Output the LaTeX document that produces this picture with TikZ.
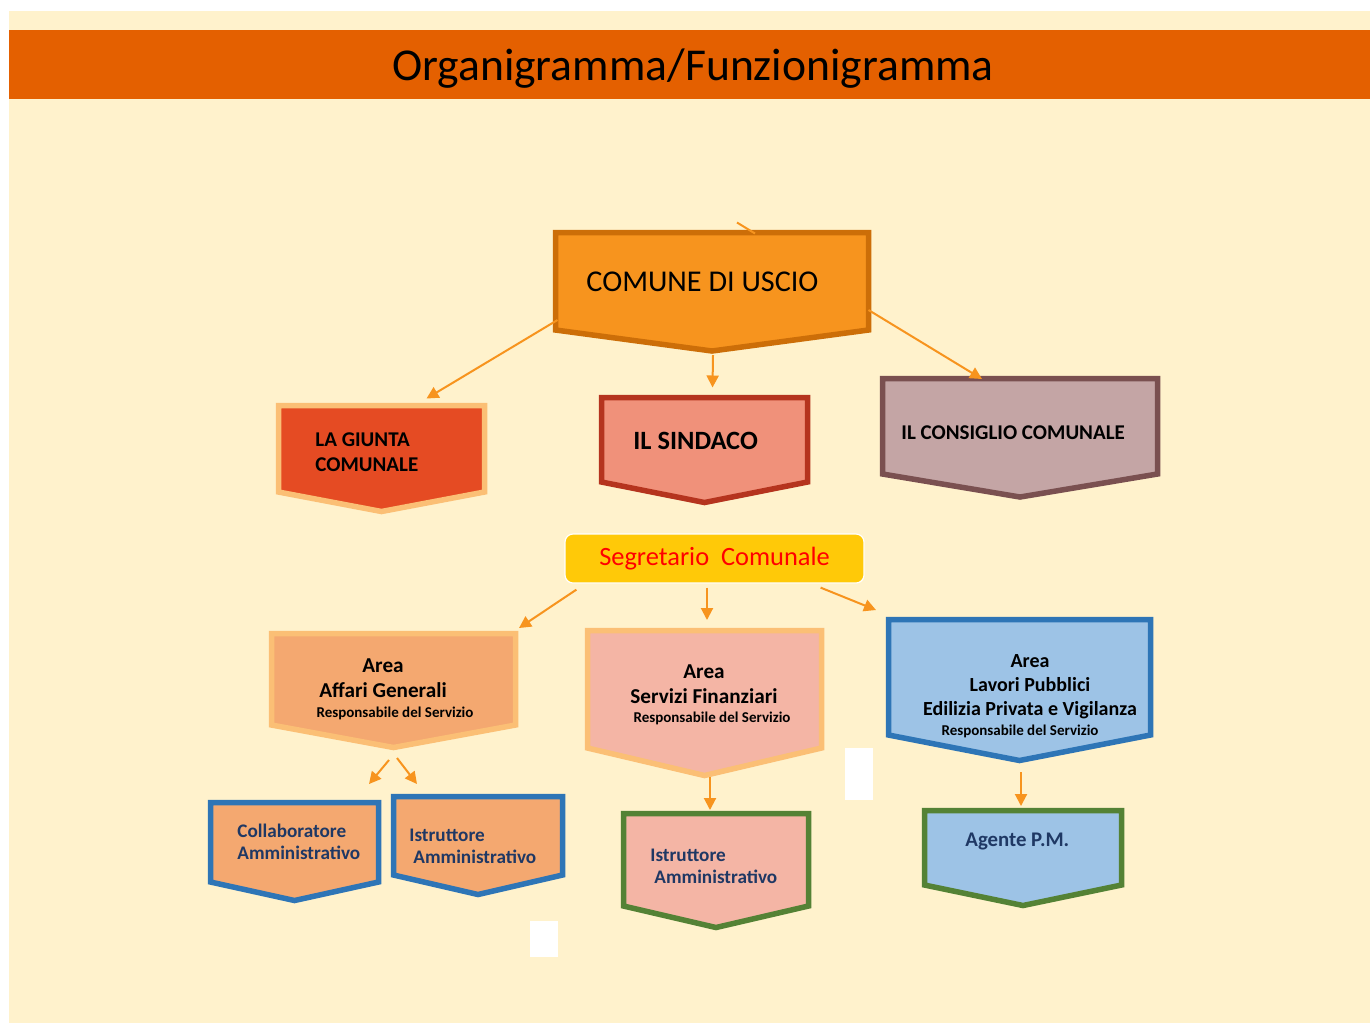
\documentclass[tikz,border=0pt]{standalone}
\usepackage{fontspec}
\setmainfont{Carlito}
\usetikzlibrary{arrows.meta,fit}
\definecolor{cream}{RGB}{255,242,204}
\definecolor{band}{RGB}{228,96,0}
\definecolor{arrowor}{RGB}{247,148,30}
\definecolor{navy}{RGB}{31,56,100}
\definecolor{peachedge}{RGB}{251,191,117}
\definecolor{blueedge}{RGB}{46,117,182}
\definecolor{greenedge}{RGB}{84,130,53}
\definecolor{lightblue}{RGB}{157,195,230}
\definecolor{apricot}{RGB}{244,168,112}
\definecolor{rose}{RGB}{244,181,165}
% chevron box: name, left, top, right, side bottom, tip, style
\newcommand{\chevron}[7]{%
  \filldraw[box,#7] (#2,#3) -- (#4,#3) -- (#4,#5) -- ({(#2+#4)/2},#6) -- (#2,#5) -- cycle;
  \node[fit={(#2,#3) (#4,#6)}, inner sep=0pt, outer sep=0pt] (#1) {};
}
\tikzset{
  box/.style={line width=2.75pt},
  conn/.style={color=arrowor, line width=1pt, -{Triangle[length=6pt,width=6pt]}},
  lbl/.style={font=\bfseries\fontsize{10.5pt}{12.5pt}\selectfont, align=left, anchor=base west, inner sep=0pt},
  arealbl/.style={font=\bfseries\fontsize{10.6pt}{12.5pt}\selectfont, align=center, anchor=base, inner sep=0pt},
  resp/.style={font=\bfseries\fontsize{7.5pt}{9pt}\selectfont, anchor=base, inner sep=0pt},
  staff/.style={font=\bfseries\fontsize{9.6pt}{11pt}\selectfont, text=navy, align=left, anchor=base west, inner sep=0pt}
}
\begin{document}
\begin{tikzpicture}[x=0.5pt,y=-0.5pt]
\useasboundingbox (0,0) rectangle (1370,1025);
\fill[cream] (9,11) rectangle (1370,1023);
\fill[band] (9,30) rectangle (1370,99);
\node[font=\fontsize{22.8pt}{26pt}\selectfont, anchor=base, inner sep=0pt] (title) at (693,80) {Organigramma/Funzionigramma};
\fill[white] (845,748) rectangle (873,800);
\fill[white] (530,921) rectangle (558,957);

% top level
\chevron{comune}{555.5}{232.5}{868.5}{330}{351}{fill={rgb,255:red,247;green,148;blue,30}, draw={rgb,255:red,204;green,110;blue,8}}
\chevron{giunta}{278.5}{405.5}{484.5}{492}{511.5}{fill={rgb,255:red,229;green,75;blue,35}, draw=peachedge}
\chevron{sindaco}{601.5}{397.5}{807.5}{482}{502.5}{fill={rgb,255:red,240;green,145;blue,122}, draw={rgb,255:red,181;green,52;blue,30}}
\chevron{consiglio}{882.5}{378.5}{1157.5}{474}{497}{fill={rgb,255:red,196;green,165;blue,165}, draw={rgb,255:red,122;green,80;blue,80}}

\node[font=\fontsize{15.1pt}{17pt}\selectfont, anchor=base west, inner sep=0pt] (comune-txt) at (586,291) {COMUNE DI USCIO};
\node[lbl] (giunta-txt) at (315,471) {LA GIUNTA\\COMUNALE};
\node[lbl, font=\bfseries\fontsize{13.2pt}{15pt}\selectfont] (sindaco-txt) at (633,449) {IL SINDACO};
\node[lbl] (consiglio-txt) at (901,439) {IL CONSIGLIO COMUNALE};

\node[fill={rgb,255:red,255;green,201;blue,8}, draw=white, line width=0.6pt, rounded corners=4pt,
  minimum width=149.5pt, minimum height=24.5pt, text=red, font=\fontsize{13.2pt}{15pt}\selectfont]
  (segr) at (714.5,558.5) {Segretario\ \ Comunale};

% areas
\chevron{affari}{271.5}{633.5}{515.5}{725}{747.5}{fill=apricot, draw=peachedge}
\chevron{finanz}{587.5}{630.5}{821.5}{748}{775.5}{fill=rose, draw=peachedge}
\chevron{lavori}{888.5}{619.5}{1150.5}{735}{760.5}{fill=lightblue, draw=blueedge}

\node[arealbl] (affari-txt) at (383,697) {Area\\Affari Generali};
\node[resp] (affari-resp) at (395,717.5) {Responsabile del Servizio};
\node[arealbl] (finanz-txt) at (704,703) {Area\\Servizi Finanziari};
\node[resp] (finanz-resp) at (712,722.5) {Responsabile del Servizio};
\node[arealbl, font=\bfseries\fontsize{10pt}{11.8pt}\selectfont] (lavori-txt) at (1030,715) {Area\\Lavori Pubblici\\Edilizia Privata e Vigilanza};
\node[resp] (lavori-resp) at (1020,735.5) {Responsabile del Servizio};

% staff
\chevron{collab}{210.5}{802.5}{378.5}{882}{900.5}{fill=apricot, draw=blueedge}
\chevron{istrA}{393.5}{796.5}{562.5}{875}{894.5}{fill=apricot, draw=blueedge}
\chevron{istrB}{623.5}{813.5}{808.5}{906}{927.5}{fill=rose, draw=greenedge}
\chevron{agente}{924.5}{810.5}{1121.5}{885}{905.5}{fill=lightblue, draw=greenedge}

\node[staff] (collab-txt) at (237,859) {Collaboratore\\Amministrativo};
\node[staff] (istrA-txt) at (409,863) {Istruttore\\\hspace*{2pt}Amministrativo};
\node[staff] (istrB-txt) at (650,883) {Istruttore\\\hspace*{2pt}Amministrativo};
\node[staff, font=\bfseries\fontsize{10.4pt}{12pt}\selectfont] (agente-txt) at (965,846) {Agente P.M.};

\draw[draw=arrowor, line width=1pt] ([shift={(25,-10)}]comune.north) -- ([shift={(43,1)}]comune.north);
\path[conn]
  ([shift={(2,-31)}]comune.south west) edge ([shift={(45,-7)}]giunta.north)
  ([shift={(1,4)}]comune.south) edge ([shift={(8,-10)}]sindaco.north)
  ([shift={(0,-41)}]comune.south east) edge ([shift={(-38,0.5)}]consiglio.north)
  ([shift={(12,6)}]segr.south west) edge ([shift={(3.5,-5.5)}]affari.north east)
  ([shift={(-7.5,4)}]segr.south) edge ([shift={(2.5,-10.5)}]finanz.north)
  ([shift={(-44,4)}]segr.south east) edge ([shift={(-12.5,-9.5)}]lavori.north west)
  ([shift={(-4.5,12.5)}]affari.south) edge ([shift={(-9.5,-18.5)}]collab.north east)
  ([shift={(3.5,10.5)}]affari.south) edge ([shift={(23.5,-12.5)}]istrA.north west)
  ([shift={(5.5,1.5)}]finanz.south) edge ([shift={(-6,-3.5)}]istrB.north)
  ([shift={(1.5,11.5)}]lavori.south) edge ([shift={(-2,-4.5)}]agente.north);
\end{tikzpicture}
\end{document}
